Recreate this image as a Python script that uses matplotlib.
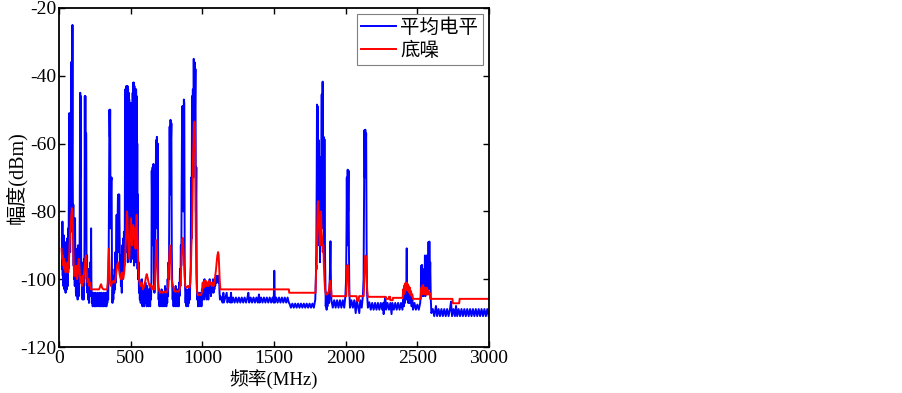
"""频谱监测: 平均电平 / 底噪 曲线 -> out.png"""
import matplotlib
matplotlib.use("Agg")
import matplotlib.pyplot as plt

# ---- 数据 (MHz, dBm) 从原图读出 ----
# 平均电平 0-230 MHz
blue_a = [(20, -88), (22, -97), (24, -83), (26, -99), (28, -90), (30, -102), (32, -87), (34, -100), (36, -93),
          (38, -103), (40, -89), (42, -101), (44, -95), (46, -104), (48, -91), (50, -100), (52, -96), (54, -103),
          (56, -88), (58, -99), (60, -94), (62, -102), (64, -85), (66, -97), (68, -80), (70, -62), (72, -51),
          (74, -75), (76, -66), (78, -92), (80, -70), (82, -86), (84, -36), (86, -60), (88, -38), (90, -75),
          (92, -55), (94, -25), (96, -70), (98, -88), (100, -78), (102, -96), (104, -84), (106, -100), (108, -88),
          (110, -102), (112, -82), (114, -97), (116, -91), (118, -104), (120, -95), (122, -105), (124, -93),
          (126, -102), (128, -98), (130, -106), (132, -90), (134, -103), (136, -97), (138, -105), (140, -92),
          (142, -100), (144, -88), (146, -62), (148, -45), (150, -70), (152, -46), (154, -90), (156, -100),
          (158, -95), (160, -105), (162, -98), (164, -106), (166, -96), (168, -103), (170, -99), (172, -106),
          (174, -94), (176, -102), (178, -88), (180, -46), (182, -75), (184, -46), (186, -80), (188, -57),
          (190, -57), (192, -95), (194, -100), (196, -93), (198, -104), (200, -99), (203, -106), (206, -97),
          (209, -107), (212, -101), (215, -105), (218, -95), (221, -103), (224, -85), (226, -100), (229, -107)]
# 230-460 MHz
blue_b = [(232, -104), (235, -108), (238, -105), (241, -107), (244, -104), (247, -108), (250, -106), (253, -108),
          (256, -104), (259, -107), (262, -105), (265, -108), (268, -106), (271, -104), (274, -107), (277, -105),
          (280, -108), (283, -106), (286, -104), (289, -108), (292, -105), (295, -107), (298, -104), (301, -108),
          (304, -106), (307, -105), (310, -108), (313, -104), (316, -107), (319, -105), (322, -108), (325, -106),
          (328, -104), (331, -108), (334, -105), (337, -107), (340, -103), (343, -106), (346, -98), (349, -75),
          (352, -50), (355, -58), (357, -50), (360, -85), (364, -71), (367, -70), (370, -100), (373, -107),
          (376, -103), (379, -106), (382, -99), (385, -104), (388, -97), (391, -103), (394, -92), (397, -101),
          (399, -90), (402, -81), (405, -96), (408, -85), (411, -76), (414, -75), (417, -92), (420, -75),
          (423, -88), (426, -98), (429, -93), (432, -102), (435, -96), (438, -104), (441, -90), (444, -100),
          (447, -88), (450, -98), (453, -86), (456, -96), (459, -85)]
# 460-560 MHz 密集信号
blue_c = [(462, -44), (464, -90), (466, -44), (468, -85), (470, -43), (472, -92), (474, -45), (476, -88),
          (478, -43), (480, -95), (482, -44), (484, -86), (486, -45), (488, -92), (490, -47), (492, -80),
          (494, -57), (496, -90), (498, -55), (500, -95), (502, -48), (504, -88), (506, -48), (508, -92),
          (510, -50), (512, -85), (514, -45), (516, -94), (518, -42), (520, -88), (522, -42), (524, -96),
          (526, -43), (528, -90), (530, -44), (532, -95), (534, -44), (536, -87), (538, -44), (540, -93),
          (542, -46), (544, -90), (546, -60), (548, -97), (550, -75)]
# 560-960 MHz
blue_d = [(552, -100), (555, -95), (558, -104), (561, -100), (564, -106), (567, -101), (570, -107), (573, -103),
          (576, -106), (579, -100), (582, -108), (585, -104), (588, -107), (591, -102), (594, -108), (597, -105),
          (600, -107), (603, -101), (606, -106), (609, -103), (612, -108), (615, -102), (618, -107), (621, -104),
          (624, -108), (627, -103), (630, -107), (633, -105), (636, -108), (639, -102), (642, -106), (645, -100),
          (647, -68), (650, -80), (653, -67), (656, -90), (659, -66), (662, -98), (666, -104), (670, -96),
          (674, -80), (677, -59), (680, -75), (683, -58), (686, -85), (689, -60), (692, -100), (695, -106),
          (698, -103), (701, -108), (704, -104), (707, -107), (710, -105), (713, -108), (716, -103), (719, -107),
          (722, -105), (725, -108), (728, -104), (731, -107), (734, -105), (737, -108), (740, -102), (743, -106),
          (746, -104), (749, -108), (752, -103), (755, -107), (758, -100), (761, -105), (764, -95), (767, -100),
          (770, -70), (772, -55), (775, -75), (778, -53), (781, -60), (784, -54), (787, -92), (790, -102),
          (793, -106), (796, -103), (799, -108), (802, -104), (805, -107), (808, -103), (811, -108), (814, -102),
          (817, -106), (820, -104), (823, -108), (826, -103), (829, -107), (832, -105), (835, -108), (838, -101),
          (841, -105), (844, -97), (847, -102), (850, -90), (853, -96), (856, -70), (859, -49), (862, -60),
          (865, -49), (868, -80), (871, -47), (874, -48), (877, -95), (880, -103), (883, -107), (886, -104),
          (889, -108), (892, -103), (895, -107), (898, -105), (901, -108), (904, -104), (907, -107), (910, -102),
          (913, -106), (916, -100), (919, -96), (922, -70), (925, -88), (928, -46), (931, -60), (934, -44),
          (937, -70), (940, -35), (943, -55), (946, -36), (949, -50), (952, -38), (955, -80), (958, -67),
          (961, -100)]
# 960-1130 MHz
blue_e = [(964, -106), (967, -104), (970, -108), (973, -105), (976, -107), (979, -104), (982, -108), (985, -105),
          (988, -107), (991, -104), (994, -108), (997, -103), (1000, -106), (1003, -101), (1006, -105),
          (1009, -102), (1012, -106), (1015, -100), (1018, -104), (1021, -101), (1024, -105), (1027, -102),
          (1030, -106), (1033, -101), (1036, -104), (1039, -102), (1042, -106), (1045, -101), (1048, -104),
          (1051, -100), (1054, -103), (1057, -101), (1060, -105), (1063, -102), (1066, -104), (1069, -101),
          (1072, -103), (1075, -100), (1078, -104), (1081, -101), (1084, -103), (1087, -100), (1090, -102),
          (1093, -100), (1096, -101), (1099, -99), (1102, -101), (1105, -99), (1108, -100), (1111, -99),
          (1114, -101), (1117, -100), (1120, -104), (1123, -106), (1126, -105)]
# 1130-1790 MHz
blue_f = [(1130, -105.5), (1140, -106.9), (1147, -104), (1150, -106.9), (1160, -105.4), (1170, -104),
          (1175, -106.9), (1185, -105.4), (1195, -106.9), (1200, -104), (1205, -106.9), (1215, -105.4),
          (1225, -106.9), (1235, -105.4), (1245, -106.9), (1255, -105.4), (1265, -106.9), (1275, -105.4),
          (1285, -106.9), (1295, -105.4), (1305, -106.9), (1315, -105.4), (1321, -104), (1327, -106.9),
          (1337, -105.4), (1347, -106.9), (1357, -105.4), (1367, -106.9), (1377, -105.4), (1387, -106.9),
          (1395, -104.5), (1400, -106.9), (1410, -105.4), (1420, -106.9), (1430, -105.4), (1440, -106.9),
          (1450, -105.4), (1460, -106.9), (1470, -105.4), (1480, -106.9), (1490, -105.4), (1498, -106.9),
          (1502, -97.5), (1506, -106.9), (1515, -105.4), (1525, -106.9), (1535, -105.4), (1545, -106.9),
          (1555, -105.4), (1565, -106.9), (1575, -105.4), (1585, -106.9), (1595, -105.4), (1603, -106.9),
          (1608, -107.2), (1618, -108.4), (1628, -107.2), (1638, -108.4), (1648, -107.2), (1658, -108.4),
          (1668, -107.2), (1678, -108.4), (1688, -107.2), (1698, -108.4), (1708, -107.2), (1718, -108.4),
          (1728, -107.2), (1738, -108.4), (1748, -107.2), (1758, -108.4), (1768, -107.2), (1778, -108.4),
          (1788, -106)]
# 1790-1900 MHz
blue_g = [(1792, -100), (1795, -92), (1798, -70), (1800, -48.5), (1803, -80), (1806, -49), (1809, -90),
          (1812, -59), (1815, -85), (1818, -64), (1821, -95), (1824, -64), (1827, -90), (1830, -70),
          (1833, -45.5), (1836, -85), (1838, -42), (1840, -41.7), (1843, -75), (1846, -58), (1849, -95),
          (1852, -58.7), (1855, -90), (1858, -100), (1861, -108), (1864, -104), (1867, -109), (1870, -106),
          (1873, -108), (1876, -105), (1879, -107), (1882, -104), (1885, -107), (1888, -102), (1891, -96),
          (1894, -88.8), (1897, -100), (1900, -106)]
# 1900-2400 MHz
blue_h = [(1910, -108.4), (1920, -106.2), (1930, -108.4), (1940, -106.2), (1950, -108.4), (1960, -106.2),
          (1970, -108.4), (1980, -106.2), (1990, -108.4), (1998, -105), (2003, -100), (2006, -85), (2008, -70),
          (2011, -90), (2014, -67.7), (2017, -80), (2020, -68), (2023, -92), (2026, -104), (2030, -108.4),
          (2040, -106.2), (2050, -108.4), (2060, -106.2), (2070, -110), (2078, -106.2), (2088, -108.4),
          (2095, -110), (2102, -106.2), (2112, -108.4), (2120, -105), (2125, -100), (2128, -80), (2131, -56),
          (2134, -70), (2137, -55.9), (2140, -62), (2143, -57), (2146, -90), (2149, -104), (2155, -108.4),
          (2165, -106.8), (2175, -109), (2185, -107), (2195, -109), (2205, -107), (2215, -109), (2225, -107),
          (2235, -109), (2245, -107), (2255, -109), (2262, -107), (2265, -110.3), (2270, -107), (2277, -105.3),
          (2282, -109), (2292, -107), (2302, -109), (2312, -107), (2320, -110.3), (2326, -107), (2336, -109),
          (2346, -107), (2356, -109), (2366, -107), (2376, -109), (2386, -107), (2396, -109)]
# 2400-2600 MHz
blue_i = [(2402, -106), (2406, -108), (2410, -104), (2414, -107), (2418, -103), (2422, -106), (2424, -100),
          (2426, -90.9), (2428, -104), (2432, -105), (2436, -107), (2440, -104), (2444, -107), (2448, -104.5),
          (2452, -107), (2456, -105), (2460, -108), (2465, -106), (2470, -109), (2480, -107), (2490, -109),
          (2500, -107.5), (2510, -109), (2520, -107), (2524, -104), (2527, -96), (2530, -105), (2533, -95.8),
          (2536, -104), (2539, -97), (2542, -105), (2546, -100), (2550, -104), (2553, -93), (2556, -105),
          (2559, -95), (2562, -104), (2565, -93), (2568, -103), (2572, -98), (2575, -104), (2578, -89),
          (2581, -103), (2584, -88.9), (2587, -100), (2590, -95), (2594, -106), (2598, -110)]
# 2600-3000 MHz
blue_j = [(2608, -108.8), (2618, -110.9), (2630, -107.9), (2638, -110.9), (2648, -108.8), (2658, -110.9),
          (2668, -108.8), (2678, -110.9), (2688, -108.8), (2698, -110.9), (2708, -108.8), (2718, -110.9),
          (2728, -108.8), (2735, -106.6), (2742, -110.9), (2752, -108.8), (2762, -110.9), (2770, -107.9),
          (2778, -110.9), (2788, -108.8), (2798, -110.9), (2808, -108.8), (2818, -110.9), (2828, -108.8),
          (2838, -110.9), (2848, -108.8), (2858, -110.9), (2868, -108.8), (2878, -110.9), (2888, -108.8),
          (2898, -110.9), (2908, -108.8), (2918, -110.9), (2928, -108.8), (2938, -110.9), (2948, -108.8),
          (2958, -110.9), (2968, -108.8), (2978, -110.9), (2988, -108.8), (2998, -110.9)]

# 底噪
red_a = [(18, -91), (22, -94), (26, -93), (30, -96), (34, -94), (38, -97), (42, -95), (46, -98), (50, -96),
         (55, -97), (60, -95), (65, -98), (70, -94), (74, -90), (78, -86), (82, -84), (86, -81), (90, -79),
         (94, -80), (98, -88), (102, -95), (106, -99), (110, -97), (114, -99), (118, -96), (122, -98),
         (126, -100), (130, -99), (134, -96), (138, -94), (142, -96), (146, -99), (150, -101), (155, -100),
         (160, -102), (165, -99), (170, -101), (175, -98), (180, -96), (184, -94), (188, -93), (192, -96),
         (196, -99), (200, -101), (206, -100), (212, -102), (218, -101), (224, -103), (250, -103), (280, -103),
         (288, -102), (294, -101.5), (300, -102.5), (310, -103), (330, -103)]
red_b = [(335, -103), (340, -101), (344, -95), (348, -91), (352, -96), (356, -101), (362, -102), (370, -101),
         (380, -100.5), (390, -101), (398, -99), (405, -96), (412, -95), (418, -97), (425, -99), (432, -100),
         (440, -98), (448, -100), (455, -98), (460, -95), (465, -90), (470, -86), (474, -80), (478, -82),
         (482, -88), (486, -91), (490, -94), (494, -90), (498, -86), (502, -82), (506, -87), (510, -90),
         (514, -86), (518, -84), (522, -88), (526, -85), (530, -88), (534, -91), (538, -85), (542, -81),
         (546, -86), (550, -91), (554, -96), (558, -100), (563, -101), (570, -102), (578, -101), (586, -103),
         (594, -102), (600, -101), (606, -99.5), (612, -98.5), (618, -99.5), (625, -101), (632, -102),
         (640, -101.5), (648, -103), (656, -102), (664, -103), (670, -101), (674, -95), (678, -88.5),
         (682, -90), (686, -96), (690, -101), (696, -103)]
red_c = [(705, -104), (715, -103.6), (725, -104), (735, -103.6), (745, -104), (755, -103.6), (762, -102),
         (766, -98), (770, -93), (774, -90), (778, -90.5), (782, -95), (786, -100), (790, -101), (796, -102),
         (805, -103.5), (815, -103.7), (825, -103.5), (835, -103.7), (842, -103), (848, -101), (852, -97),
         (856, -92), (860, -88), (864, -87.8), (868, -91), (872, -95), (876, -99), (881, -102), (890, -102.5),
         (900, -102), (910, -102.5), (916, -101), (920, -97), (924, -90), (928, -86), (932, -75), (935, -64),
         (938, -60), (941, -54), (945, -53.5), (948, -54), (950, -60), (952, -74), (955, -88), (958, -98),
         (962, -103), (968, -104.7), (980, -104.5), (990, -104.7), (996, -104), (1000, -103), (1005, -101),
         (1010, -102.5), (1015, -100.5), (1020, -102), (1025, -100.5), (1030, -102), (1036, -101),
         (1042, -102), (1048, -100.5), (1054, -101.5), (1060, -101), (1066, -102), (1072, -101), (1078, -102),
         (1084, -101), (1090, -99), (1096, -97), (1100, -95), (1105, -93), (1110, -92), (1114, -93),
         (1118, -97), (1122, -101), (1126, -103), (1130, -103)]
red_d = [(1604, -103), (1606, -104), (1790, -104)]
red_e = [(1792, -100), (1795, -96), (1798, -97), (1801, -85), (1805, -78), (1809, -77), (1813, -83),
         (1817, -87), (1820, -90), (1824, -82), (1828, -80), (1832, -86), (1836, -88), (1840, -92),
         (1844, -90), (1848, -96), (1852, -100), (1856, -103), (1862, -104.5), (1870, -104.5), (1878, -104),
         (1884, -103), (1889, -101), (1893, -100.4), (1897, -102), (1902, -105), (2004, -105)]
red_f = [(2007, -100), (2010, -96), (2014, -95.8), (2018, -96.5), (2022, -102), (2026, -105), (2076, -105),
         (2080, -106.4), (2090, -106.4), (2094, -105), (2126, -105), (2130, -100), (2134, -95), (2138, -93),
         (2142, -94), (2146, -99), (2150, -103), (2155, -105.2), (2280, -105.2), (2283, -105.8), (2300, -105.8),
         (2302, -105.2), (2310, -105.2), (2312, -106.2), (2328, -106.2), (2330, -105.5), (2398, -105.5),
         (2401, -103), (2404, -104.5), (2407, -102), (2410, -104), (2413, -101.5), (2416, -103.5), (2419, -101),
         (2422, -103), (2425, -101.5), (2428, -101), (2431, -103), (2434, -101.5), (2437, -103.5), (2440, -102),
         (2444, -104), (2448, -102.5), (2452, -104.5), (2456, -103.5), (2460, -105), (2465, -104.5),
         (2470, -105.8), (2525, -105.8), (2528, -102.5), (2531, -104.5), (2534, -102), (2537, -104),
         (2540, -101.7), (2543, -104), (2546, -102.5), (2549, -104.5), (2552, -102.5), (2555, -104),
         (2558, -103), (2561, -104.5), (2564, -102.5), (2567, -104.5), (2570, -103), (2574, -104.5),
         (2578, -103.5), (2582, -104.5), (2586, -104), (2590, -105.8), (2745, -105.8), (2748, -107.1),
         (2792, -107.1), (2795, -105.8), (3000, -105.8)]

x_ticks = [0, 500, 1000, 1500, 2000, 2500, 3000]
y_ticks = [-120, -100, -80, -60, -40, -20]
series_names = ["平均电平", "底噪"]

SERIF_CJK = ["Liberation Serif", "Noto Sans CJK SC"]


def split(segments):
    pts = [p for seg in segments for p in seg]
    return [p[0] for p in pts], [p[1] for p in pts]


def main():
    plt.rcParams["axes.unicode_minus"] = False
    plt.rcParams["font.family"] = SERIF_CJK

    fig = plt.figure(figsize=(9.03, 3.93), dpi=100)
    ax = fig.add_axes([59 / 903, 1 - 347 / 393, 430 / 903, 339 / 393])

    bx, by = split([blue_a, blue_b, blue_c, blue_d, blue_e, blue_f, blue_g, blue_h, blue_i, blue_j])
    rx, ry = split([red_a, red_b, red_c, red_d, red_e, red_f])
    ax.plot(bx, by, color="#0000ff", linewidth=1.4, label=series_names[0])
    ax.plot(rx, ry, color="#ff0000", linewidth=1.4, label=series_names[1])

    ax.set_xlim(0, 3000)
    ax.set_ylim(-120, -20)
    ax.set_xticks(x_ticks)
    ax.set_yticks(y_ticks)
    ax.tick_params(direction="in", length=4, width=1, top=True, right=True, labelsize=14, pad=2)
    for s in ax.spines.values():
        s.set_linewidth(1.3)

    ax.set_xlabel("频率(MHz)", fontsize=13.5, labelpad=1.5)
    ax.set_ylabel("幅度(dBm)", fontsize=14.5)
    ax.yaxis.set_label_coords(-0.074, 0.5)

    leg = ax.legend(loc="upper right", fancybox=False, framealpha=1, edgecolor="#808080",
                    borderaxespad=0.3, borderpad=0.25, labelspacing=0.25,
                    handlelength=1.8, handletextpad=0.2,
                    prop={"family": SERIF_CJK, "size": 14})
    leg.get_frame().set_linewidth(0.8)

    fig.savefig("out.png", dpi=100, facecolor="white")
    plt.close(fig)


if __name__ == "__main__":
    main()
